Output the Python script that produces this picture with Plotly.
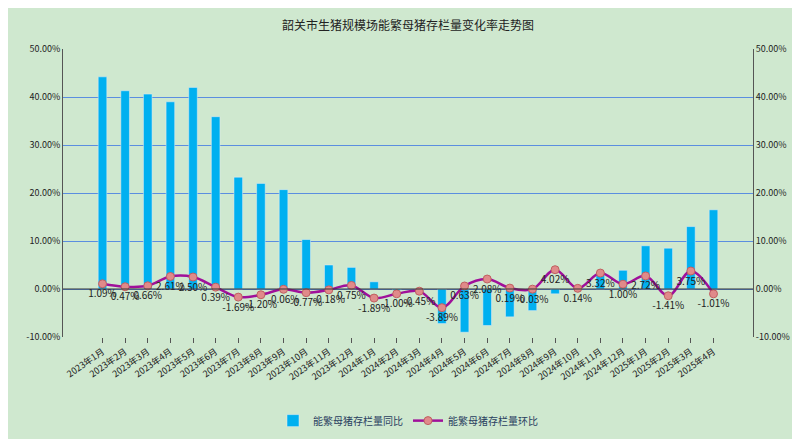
import plotly.graph_objects as go

months = ["2023年1月", "2023年2月", "2023年3月", "2023年4月", "2023年5月", "2023年6月",
          "2023年7月", "2023年8月", "2023年9月", "2023年10月", "2023年11月", "2023年12月",
          "2024年1月", "2024年2月", "2024年3月", "2024年4月", "2024年5月", "2024年6月",
          "2024年7月", "2024年8月", "2024年9月", "2024年10月", "2024年11月", "2024年12月",
          "2025年1月", "2025年2月", "2025年3月", "2025年4月"]

# 同比 (%)
yoy = [44.2, 41.3, 40.6, 39.0, 42.0, 35.9, 23.3, 22.0, 20.7, 10.3, 5.0, 4.5,
       1.5, -0.3, -0.8, -7.2, -9.0, -7.6, -5.8, -4.5, -1.0, 0.1, 3.5, 3.9,
       9.0, 8.5, 13.0, 16.5]

# 环比 (%)
mom = [1.09, 0.47, 0.66, 2.61, 2.50, 0.39, -1.69, -1.20, -0.06, -0.77, -0.18, 0.75,
       -1.89, -1.00, -0.45, -3.89, 0.63, 2.08, 0.19, -0.03, 4.02, 0.14, 3.32, 1.00,
       2.72, -1.41, 3.75, -1.01]

tickvals = [-10, 0, 10, 20, 30, 40, 50]
ticktext = ["%.2f%%" % v for v in tickvals]

fig = go.Figure()
fig.add_trace(go.Bar(x=months, y=yoy, name="能繁母猪存栏量同比", marker_color="#00b0f0",
                     width=0.38))
fig.add_trace(go.Scatter(x=months, y=mom, name="能繁母猪存栏量环比", mode="lines+markers+text",
                         line=dict(color="#a0109a", width=2.5, shape="spline"),
                         marker=dict(size=8, color="#e08a8a", line=dict(color="#c06060", width=1)),
                         text=["%.2f%%" % v for v in mom], textposition="bottom center",
                         textfont=dict(size=10, color="#222")))
fig.add_trace(go.Scatter(x=months, y=mom, yaxis="y2", mode="none", showlegend=False,
                         hoverinfo="skip"))

axis_common = dict(range=[-10, 50], tickvals=tickvals, ticktext=ticktext,
                   tickfont=dict(size=9, color="#222"), showline=True, linecolor="#555",
                   zeroline=False, automargin=False)
fig.update_layout(
    title=dict(text="韶关市生猪规模场能繁母猪存栏量变化率走势图", x=0.5, y=0.97,
               font=dict(size=12, color="#222")),
    width=800, height=439,
    paper_bgcolor="#cfe8cf", plot_bgcolor="#cfe8cf",
    font=dict(family="Noto Sans CJK SC"),
    margin=dict(l=55, r=55, t=41, b=89),
    yaxis=dict(**axis_common, showgrid=True, gridcolor="#5b8ee0", gridwidth=1),
    yaxis2=dict(**axis_common, overlaying="y", side="right", showgrid=False),
    xaxis=dict(tickangle=-35, tickfont=dict(size=9, color="#222"), showline=False,
               ticks="outside", tickcolor="#555", automargin=False),
    legend=dict(orientation="h", x=0.5, xanchor="center", y=-0.24, font=dict(size=10)),
)
fig.add_hline(y=0, line_color="#333", line_width=1)

fig.write_html("out.html")
